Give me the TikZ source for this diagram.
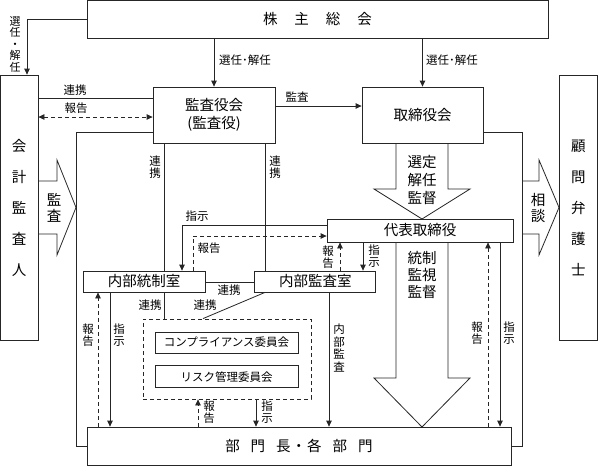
\documentclass[tikz,border=0pt]{standalone}
\usepackage{fontspec}
\setmainfont{Noto Sans CJK JP}
\usepackage{tikz}
\usetikzlibrary{arrows.meta, positioning}

\begin{document}
\begin{tikzpicture}[
        x=1pt, y=-1pt,
        line width=0.8pt,
        box/.style={draw=black!85,fill=white,inner sep=0pt,align=center,font=\fontsize{14.5}{18}\selectfont},
        sbox/.style={draw=black!85,fill=white,inner sep=0pt,font=\fontsize{11.5}{14}\selectfont},
        tate/.style={inner sep=0pt,align=center,font=\fontsize{14.5}{#1}\selectfont},
        lbl/.style={inner sep=0pt,align=center,font=\fontsize{11.5}{12.5}\selectfont},
        conn/.style={draw=black!85},
        arr/.style={draw=black!85,-{Triangle[length=6pt,width=5.5pt]}},
        rep/.style={draw=black!85,dash pattern=on 4pt off 3pt,-{Triangle[length=6pt,width=5.5pt]}},
        reptwo/.style={draw=black!85,dash pattern=on 4pt off 3pt,{Triangle[length=6pt,width=5.5pt]}-{Triangle[length=6pt,width=5.5pt]}},
        big/.style={draw=black!85,fill=white,line join=miter}
    ]
    \useasboundingbox[fill=white] (0,0) rectangle (598,466);

    % block arrows
    \draw[big] (38,181) -- (57,181) -- (57,160) -- (76,207.5) -- (57,255) -- (57,234) -- (38,234);
    \draw[big] (522,181) -- (539,181) -- (539,160) -- (559,207.5) -- (539,255) -- (539,234) -- (522,234);
    \draw[big] (396,143) -- (396,189) -- (374,189) -- (422,219) -- (470,189) -- (448,189) -- (448,143);
    \draw[big] (396,242) -- (396,378) -- (374,378) -- (422,427) -- (470,378) -- (448,378) -- (448,242);
    \node[tate=16] (t-kansa) at (54,208) {監\\査};
    \node[tate=16] (t-soudan) at (538,208) {相\\談};
    \node[tate=18] (t-sentei) at (422,180) {選定\\解任\\監督};
    \node[tate=17] (t-kantoku) at (422,275) {統制\\監視\\監督};

    \node[box,minimum width=461,minimum height=37.5] (kabunushi) at (317.5,19.25)
        {株\hspace{17pt}主\hspace{17pt}総\hspace{17pt}会};
    \node[box,minimum width=37.5,minimum height=265,font=\fontsize{14.5}{31}\selectfont] (kaikei) at (19.25,207.5)
        {会\\計\\監\\査\\人};
    \node[box,minimum width=38.5,minimum height=265,font=\fontsize{14.5}{31}\selectfont] (komon) at (578.25,207.5)
        {顧\\問\\弁\\護\\士};
    \node[box,minimum width=122,minimum height=56] (kansayaku) at (214,115) {監査役会\\(監査役)};
    \node[box,minimum width=121,minimum height=56] (torishimari) at (422.5,115) {取締役会};
    \node[box,minimum width=186,minimum height=23] (daihyo) at (420,230.5) {代表取締役};
    \node[box,minimum width=122,minimum height=21] (tousei) at (144,281.5) {内部統制室};
    \node[box,minimum width=121,minimum height=21,right=49pt of tousei] (kansashitsu) {内部監査室};
    \node[box,minimum width=424,minimum height=38] (bumon) at (299,446)
        {部\hspace{11pt}門\hspace{11pt}長\hspace{1pt}・\hspace{1pt}各\hspace{11pt}部\hspace{11pt}門};
    \node[draw=black!85,dash pattern=on 4pt off 3pt,minimum width=168,minimum height=80] (iinkai) at (227,359) {};
    \node[sbox,minimum width=143,minimum height=21] (comp) at (226.5,342.5) {コンプライアンス委員会};
    \node[sbox,minimum width=143,minimum height=22,below=12pt of comp] (risk) {リスク管理委員会};

    % 株主総会から
    \draw[arr] (kabunushi.west) -| ([xshift=7.75pt]kaikei.north);
    \draw[arr] (kabunushi.south -| kansayaku.north) -- (kansayaku.north);
    \draw[arr] (kabunushi.south -| torishimari.north) -- (torishimari.north);
    \node[lbl,font=\fontsize{11}{11.5}\selectfont] (l-sn0) at (15,44) {選\\任\\・\\解\\任};
    \node[lbl] (l-sn1) at (245,60) {選任･解任};
    \node[lbl] (l-sn2) at (452,60) {選任･解任};

    \draw[conn] (kaikei.east |- 0,98) -- (kansayaku.west |- 0,98);
    \draw[reptwo] (kaikei.east |- 0,117) -- (kansayaku.west |- 0,117);
    \draw[arr] (kansayaku.east |- 0,106) -- (torishimari.west |- 0,106);
    \node[lbl] (l-rk0) at (75,90) {連携};
    \node[lbl] (l-hk0) at (76,108) {報告};
    \node[lbl] (l-ks0) at (297,97) {監査};

    \draw[conn] (kansayaku.west |- 0,132) -| (76,446) -- (bumon.west);
    \draw[conn] (torishimari.east |- 0,132) -| (522,446) -- (bumon.east);

    \draw[conn] (kansayaku.south -| 164,0) -- (tousei.north -| 164,0);
    \draw[conn] (kansayaku.south -| 265,0) -- (kansashitsu.north -| 265,0);
    \node[lbl] (l-rk1) at (155,167) {連\\携};
    \node[lbl] (l-rk2) at (275,167) {連\\携};

    \draw[arr] (daihyo.west |- 0,225) -| (tousei.north -| 182,0);
    \draw[rep] (tousei.north -| 193,0) |- (daihyo.west |- 0,236);
    \node[lbl] (l-sj1) at (197,216) {指示};
    \node[lbl] (l-hk1) at (209,248) {報告};

    \draw[conn] (tousei.east |- 0,282) -- (kansashitsu.west |- 0,282);
    \node[lbl] (l-rk3) at (229,290) {連携};

    \draw[rep] (kansashitsu.north -| 340,0) -- (daihyo.south -| 340,0);
    \draw[arr] (daihyo.south -| 363,0) -- (kansashitsu.north -| 363,0);
    \node[lbl] (l-hk2) at (328,257) {報\\告};
    \node[lbl] (l-sj2) at (374,256) {指\\示};

    \draw[conn] (tousei.south -| 164,0) -- (iinkai.north -| 164,0);
    \draw[conn] (kansashitsu.south -| 265,0) -- (iinkai.north -| 203,0);
    \node[lbl] (l-rk4) at (150,305) {連携};
    \node[lbl] (l-rk5) at (205,305) {連携};

    \draw[rep] (bumon.north -| 98,0) -- (tousei.south -| 98,0);
    \draw[arr] (tousei.south -| 110,0) -- (bumon.north -| 110,0);
    \node[lbl] (l-hk3) at (88,335) {報\\告};
    \node[lbl] (l-sj3) at (119,335) {指\\示};

    \draw[arr] (kansashitsu.south -| 329,0) -- (bumon.north -| 329,0);
    \node[lbl] (l-nb) at (339,348) {内\\部\\監\\査};

    \draw[rep] (bumon.north -| 488,0) -- (daihyo.south -| 488,0);
    \draw[arr] (daihyo.south -| 500,0) -- (bumon.north -| 500,0);
    \node[lbl] (l-hk4) at (477,333) {報\\告};
    \node[lbl] (l-sj4) at (509,333) {指\\示};

    \draw[rep] (bumon.north -| 198,0) -- (iinkai.south -| 198,0);
    \draw[arr] (iinkai.south -| 256,0) -- (bumon.north -| 256,0);
    \node[lbl] (l-hk5) at (209,412) {報\\告};
    \node[lbl] (l-sj5) at (267,412) {指\\示};
\end{tikzpicture}
\end{document}
